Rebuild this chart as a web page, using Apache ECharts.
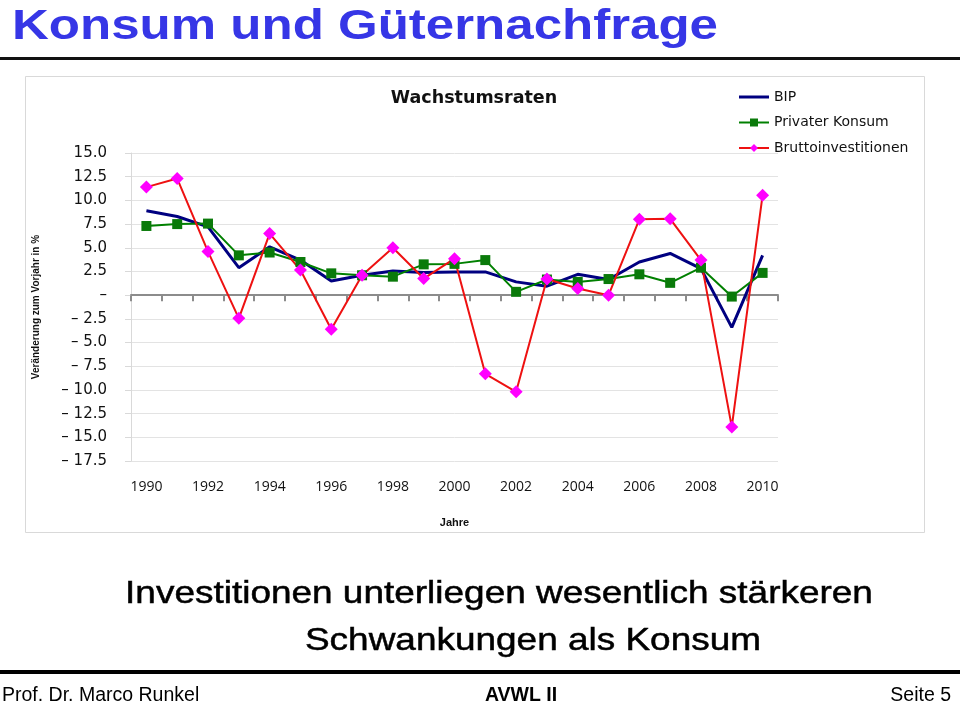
<!DOCTYPE html>
<html>
<head>
<meta charset="utf-8">
<script src="https://cdn.jsdelivr.net/npm/echarts@6/dist/echarts.min.js"></script>
<style>
html,body{margin:0;padding:0;background:#fff;}
#c{width:960px;height:705px;}
</style>
</head>
<body>
<div id="c"></div>
<script>
var years = ['1990','1991','1992','1993','1994','1995','1996','1997','1998','1999','2000','2001','2002','2003','2004','2005','2006','2007','2008','2009','2010'];
var bip = [8.9, 8.3, 7.2, 2.9, 5.1, 3.7, 1.5, 2.1, 2.55, 2.4, 2.45, 2.45, 1.4, 0.95, 2.2, 1.65, 3.5, 4.4, 2.8, -3.4, 4.2];
var konsum = [7.3, 7.5, 7.55, 4.2, 4.5, 3.5, 2.3, 2.1, 1.95, 3.25, 3.3, 3.7, 0.35, 1.65, 1.4, 1.7, 2.2, 1.3, 2.9, -0.15, 2.35];
var investitionen = [11.4, 12.3, 4.6, -2.45, 6.5, 2.65, -3.6, 2.1, 5.0, 1.75, 3.85, -8.3, -10.2, 1.7, 0.7, 0.0, 8.0, 8.05, 3.7, -13.9, 10.55];
var yMin = -17.5, yMax = 15, yStep = 2.5;

var chart = echarts.init(document.getElementById('c'));
var option = {
  animation: false,
  backgroundColor: '#fff',
  title: {
    text: 'Wachstumsraten',
    left: 469, top: 84, textAlign: 'center',
    textStyle: {fontFamily: 'DejaVu Sans', fontWeight: 'bold', fontSize: 17.5, color: '#111'}
  },
  legend: {
    orient: 'vertical', left: 733, top: 85, itemGap: 11.5,
    itemWidth: 30, itemHeight: 10,
    textStyle: {fontFamily: 'DejaVu Sans', fontSize: 14, color: '#111'},
    data: [
      {name: 'BIP', icon: 'path://M0,0 L30,0 L30,3 L0,3 Z'},
      'Privater Konsum', 'Bruttoinvestitionen'
    ]
  },
  grid: {left: 131, top: 153, width: 647, height: 308, containLabel: false},
  xAxis: [{
    type: 'category', data: years, position: 'top', boundaryGap: true,
    axisLine: {onZero: true, lineStyle: {color: '#8c8c8c', width: 2}},
    axisTick: {show: true, inside: true, interval: 0, length: 6, lineStyle: {color: '#8c8c8c', width: 2}},
    axisLabel: {show: false}, splitLine: {show: false}
  }, {
    type: 'category', data: years, position: 'bottom', boundaryGap: true,
    axisLine: {show: false, onZero: false}, axisTick: {show: false},
    axisLabel: {show: true, interval: 1, margin: 19, fontFamily: 'Open Sans', fontSize: 14, color: '#111'},
    name: 'Jahre', nameLocation: 'middle', nameGap: 56,
    nameTextStyle: {fontFamily: 'Liberation Sans', fontWeight: 'bold', fontSize: 11, color: '#111'}
  }],
  yAxis: {
    type: 'value', min: yMin, max: yMax, interval: yStep,
    axisLine: {show: true, lineStyle: {color: '#d9d9d9', width: 1}},
    axisTick: {show: true, length: 6, lineStyle: {color: '#d9d9d9'}},
    splitLine: {show: true, lineStyle: {color: '#e3e3e3', width: 1}},
    axisLabel: {
      margin: 24, fontFamily: 'DejaVu Sans', fontSize: 15, color: '#111',
      formatter: function (v) {
        if (Math.abs(v) < 1e-9) return '–';
        if (v < 0) return '– ' + Math.abs(v).toFixed(1);
        return v.toFixed(1);
      }
    },
    name: 'Veränderung zum Vorjahr in %', nameLocation: 'middle', nameGap: 90, nameRotate: 90,
    nameTextStyle: {fontFamily: 'Liberation Sans', fontWeight: 'bold', fontSize: 10, color: '#111'}
  },
  series: [{
    name: 'BIP', type: 'line', data: bip, xAxisIndex: 0,
    symbol: 'none', lineStyle: {color: '#000080', width: 3}, itemStyle: {color: '#000080'}
  }, {
    name: 'Privater Konsum', type: 'line', data: konsum, xAxisIndex: 0,
    symbol: 'rect', symbolSize: 10, showAllSymbol: true,
    lineStyle: {color: '#008000', width: 2}, itemStyle: {color: '#0a7a0a'}
  }, {
    name: 'Bruttoinvestitionen', type: 'line', data: investitionen, xAxisIndex: 0,
    symbol: 'diamond', symbolSize: 13, showAllSymbol: true,
    lineStyle: {color: '#ee1111', width: 2}, itemStyle: {color: '#ff00ff'}
  }],
  graphic: [
    {type: 'rect', z: -10, shape: {x: 25.5, y: 76.5, width: 899, height: 456}, style: {fill: '#fff', stroke: '#d9d9d9', lineWidth: 1}},
    {type: 'group', x: 12, y: 27, scaleX: 1.215, children: [
      {type: 'text', style: {x: 0, y: 0, text: 'Konsum und Güternachfrage', fontFamily: 'Liberation Sans', fontWeight: 'bold', fontSize: 42, fill: '#3636e6', align: 'left', verticalAlign: 'middle'}}
    ]},
    {type: 'rect', shape: {x: 0, y: 57, width: 960, height: 3}, style: {fill: '#111'}},
    {type: 'group', x: 499, y: 594, scaleX: 1.155, children: [
      {type: 'text', style: {x: 0, y: 0, text: 'Investitionen unterliegen wesentlich stärkeren', fontFamily: 'Liberation Sans', fontSize: 32, fill: '#000', stroke: '#000', lineWidth: 0.5, align: 'center', verticalAlign: 'middle'}}
    ]},
    {type: 'group', x: 533, y: 641, scaleX: 1.155, children: [
      {type: 'text', style: {x: 0, y: 0, text: 'Schwankungen als Konsum', fontFamily: 'Liberation Sans', fontSize: 32, fill: '#000', stroke: '#000', lineWidth: 0.5, align: 'center', verticalAlign: 'middle'}}
    ]},
    {type: 'rect', shape: {x: 0, y: 670, width: 960, height: 4}, style: {fill: '#000'}},
    {type: 'text', x: 2, y: 696, style: {text: 'Prof. Dr. Marco Runkel', fontFamily: 'Liberation Sans', fontSize: 19.5, fill: '#000', align: 'left', verticalAlign: 'middle'}},
    {type: 'text', x: 521, y: 696, style: {text: 'AVWL II', fontFamily: 'Liberation Sans', fontWeight: 'bold', fontSize: 19.5, fill: '#000', align: 'center', verticalAlign: 'middle'}},
    {type: 'text', x: 951, y: 696, style: {text: 'Seite 5', fontFamily: 'Liberation Sans', fontSize: 19.5, fill: '#000', align: 'right', verticalAlign: 'middle'}}
  ]
};
chart.setOption(option);
</script>
</body>
</html>
